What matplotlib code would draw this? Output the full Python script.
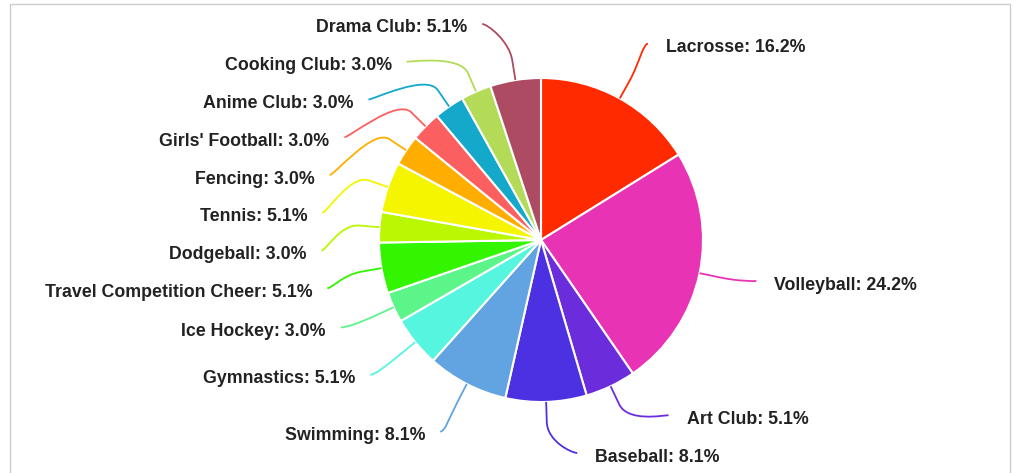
import numpy as np
import matplotlib.pyplot as plt
from matplotlib.path import Path
from matplotlib.patches import PathPatch

# data (counts out of 99 respondents)
clubs = ["Lacrosse", "Volleyball", "Art Club", "Baseball", "Swimming",
         "Gymnastics", "Ice Hockey", "Travel Competition Cheer", "Dodgeball",
         "Tennis", "Fencing", "Girls' Football", "Anime Club", "Cooking Club",
         "Drama Club"]
counts = [16, 24, 5, 8, 8, 5, 3, 5, 3, 5, 3, 3, 3, 3, 5]
colors = ["#FF2A00", "#E834B4", "#6B2DDC", "#4C31E3", "#62A3E1",
          "#55F5DF", "#5CF58A", "#33F500", "#BBF700", "#F5F500",
          "#FFAE00", "#FC5F5F", "#14A8CB", "#B3DB57", "#AC4B61"]

W, H = 1018, 473
fig = plt.figure(figsize=(W / 100, H / 100), dpi=100)
ax = fig.add_axes([0, 0, 1, 1])

cx, cy, r = 541, H - 240, 162
wedges, _ = ax.pie(counts, colors=colors, startangle=90, counterclock=False,
                   center=(cx, cy), radius=r,
                   wedgeprops=dict(edgecolor="white", linewidth=1.5))
ax.set_xlim(0, W)
ax.set_ylim(0, H)
ax.set_aspect("auto")
ax.axis("off")

# frame around the chart
ax.plot([10, 10, 1010, 1010], [-5, H - 4, H - 4, -5], color="#cccccc", lw=1,
        solid_joinstyle="miter")

# label layout (screen coords, y down)
R = 220
gap = 37.75
top, bottom = 28, 457
total = sum(counts)
items = []
for w, name, n, col in zip(wedges, clubs, counts, colors):
    a = np.deg2rad((w.theta1 + w.theta2) / 2)
    items.append(dict(a=a, left=np.cos(a) < 0, sy=240 - R * np.sin(a),
                      text=f"{name}: {100 * n / total:.1f}%", color=col))


def spread(group):
    group.sort(key=lambda d: d["sy"])
    prev = top - gap
    for d in group:
        d["sy"] = max(d["sy"], prev + gap, top)
        prev = d["sy"]
    nxt = bottom + gap
    for d in reversed(group):
        d["sy"] = min(d["sy"], nxt - gap)
        nxt = d["sy"]


spread([d for d in items if d["left"]])
spread([d for d in items if not d["left"]])

for d in items:
    a, left = d["a"], d["left"]
    dy = np.clip(d["sy"] - 240, -R, R)
    lx = cx + (-1 if left else 1) * np.sqrt(R ** 2 - dy ** 2)
    ty = H - d["sy"]
    ly = ty + 4
    touch = np.array([cx + r * np.cos(a), cy + r * np.sin(a)])
    brk = np.array([cx + (r + 20) * np.cos(a), cy + (r + 20) * np.sin(a)])
    c1 = (lx + (5 if left else -5), ly)
    c2 = 2 * brk - touch
    verts = [(lx, ly), c1, tuple(c2), tuple(brk), tuple(touch)]
    codes = [Path.MOVETO, Path.CURVE4, Path.CURVE4, Path.CURVE4, Path.LINETO]
    ax.add_patch(PathPatch(Path(verts, codes), fc="none", ec=d["color"], lw=1.3))
    if left:
        ax.text(lx - 15, ty, d["text"], ha="right", va="center", fontsize=12.8,
                fontweight="bold", family="Liberation Sans", color="#222222")
    else:
        ax.text(lx + 18, ty, d["text"], ha="left", va="center", fontsize=12.8,
                fontweight="bold", family="Liberation Sans", color="#222222")

fig.savefig("out.png", dpi=100)
